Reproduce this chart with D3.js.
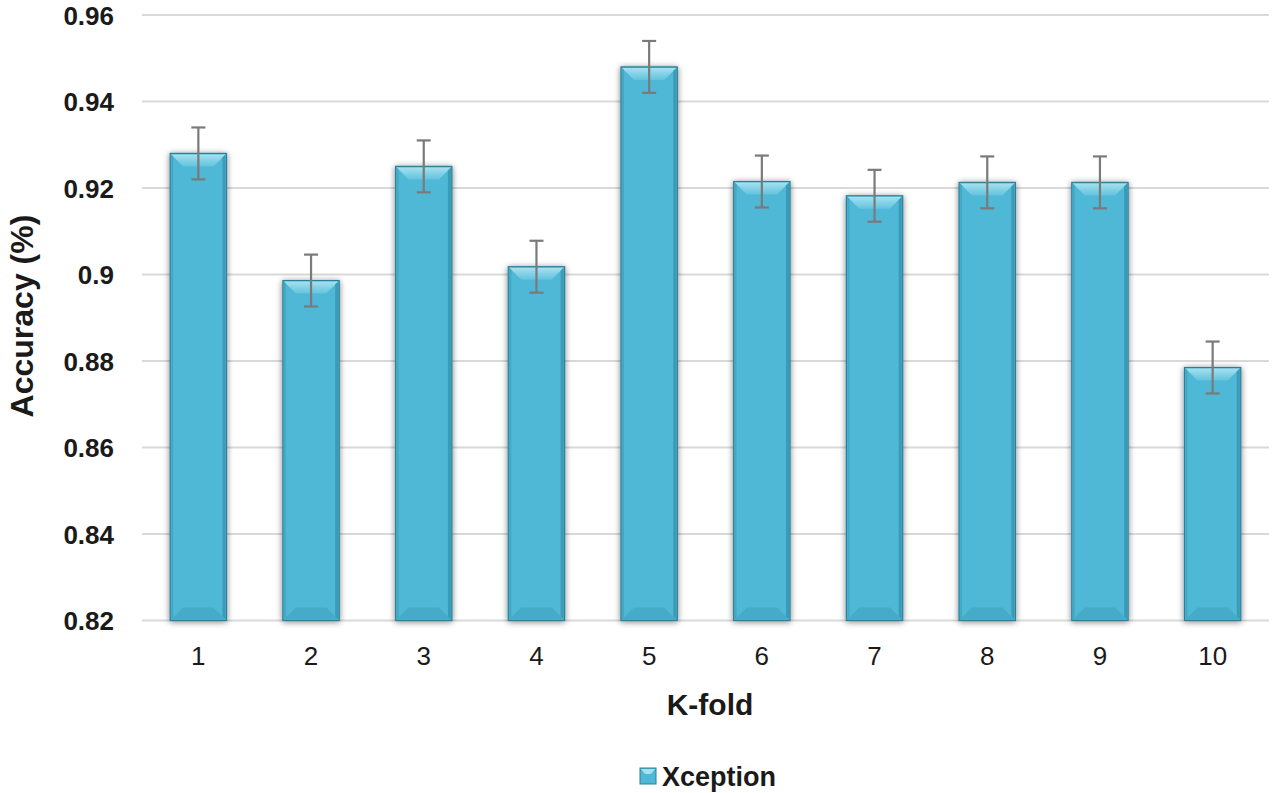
<!DOCTYPE html>
<html><head><meta charset="utf-8">
<script src="https://cdn.jsdelivr.net/npm/d3@7"></script>
<style>body{margin:0;background:#fff}svg{display:block;font-family:"Liberation Sans",Arial,Helvetica,sans-serif}</style>
</head><body>
<svg id="c" width="1272" height="793"></svg>
<script>
const folds = ["1","2","3","4","5","6","7","8","9","10"];
const accuracy = [0.928, 0.8986, 0.925, 0.9018, 0.948, 0.9215, 0.9182, 0.9213, 0.9213, 0.8785];
const errors = [0.006, 0.006, 0.006, 0.006, 0.006, 0.006, 0.006, 0.006, 0.006, 0.006];
const yTicks = [0.82, 0.84, 0.86, 0.88, 0.9, 0.92, 0.94, 0.96];
const seriesName = "Xception";

const svg = d3.select("#c");
const L = 142, R = 1269, T = 15, B = 620.5;
const x = d3.scaleBand().domain(folds).range([L, R]).paddingInner(0.5).paddingOuter(0.25);
const y = d3.scaleLinear().domain([0.82, 0.96]).range([B, T]);

const defs = svg.append("defs");
const f = defs.append("filter").attr("id","sh").attr("x","-30%").attr("y","-10%").attr("width","160%").attr("height","120%");
f.append("feGaussianBlur").attr("in","SourceAlpha").attr("stdDeviation",3).attr("result","b");
f.append("feOffset").attr("in","b").attr("dx",0).attr("dy",1).attr("result","o");
f.append("feComponentTransfer").attr("in","o").attr("result","o2").append("feFuncA").attr("type","linear").attr("slope",0.5);
const m = f.append("feMerge"); m.append("feMergeNode").attr("in","o2"); m.append("feMergeNode").attr("in","SourceGraphic");

const gTop = defs.append("linearGradient").attr("id","gt").attr("x1",0).attr("y1",0).attr("x2",0).attr("y2",1);
gTop.append("stop").attr("offset","0").attr("stop-color","#a6e0ef");
gTop.append("stop").attr("offset","1").attr("stop-color","#62c3dd");

// grid
svg.append("g").selectAll("line").data(yTicks).join("line")
  .attr("x1", L).attr("x2", R).attr("y1", d => y(d)).attr("y2", d => y(d))
  .attr("stroke", "#d9d9d9").attr("stroke-width", 2);

// y axis labels
const yAxis = d3.axisLeft(y).tickValues(yTicks).tickSize(0).tickPadding(0).tickFormat(d => String(+d.toFixed(2)));
const ya = svg.append("g").attr("transform", `translate(114,0)`).call(yAxis);
ya.select(".domain").remove();
ya.selectAll("text").attr("font-size", 26).attr("font-weight", "bold").attr("fill", "#1a1a1a")
  .attr("font-family", "'Liberation Sans',Arial,sans-serif").attr("dy", "0.35em");

// x axis labels
const xAxis = d3.axisBottom(x).tickSize(0).tickPadding(0);
const xa = svg.append("g").attr("transform", `translate(0,665)`).call(xAxis);
xa.select(".domain").remove();
xa.selectAll("text").attr("font-size", 26).attr("fill", "#1a1a1a").attr("dy", "0")
  .attr("font-family", "'Liberation Sans',Arial,sans-serif");

// bars
const bw = x.bandwidth();
const bars = svg.append("g").selectAll("g").data(folds).join("g");
bars.each(function(d, i) {
  const g = d3.select(this);
  const x0 = x(d), x1 = x0 + bw, y0 = y(accuracy[i]), y1 = y(0.82);
  const bev = 13;
  g.append("rect").attr("x", x0).attr("y", y0).attr("width", bw).attr("height", y1 - y0)
    .attr("fill", "#4fb8d6").attr("stroke", "#2d7f96").attr("stroke-width", 1.2).attr("filter", "url(#sh)");
  g.append("path").attr("d", `M${x0+1},${y0+1}L${x1-1},${y0+1}L${x1-bev},${y0+bev}L${x0+bev},${y0+bev}Z`).attr("fill", "url(#gt)");
  g.append("path").attr("d", `M${x1-1},${y0+1}L${x1-1},${y1-1}L${x1-4},${y1-4}L${x1-4},${y0+4}Z`).attr("fill", "#3b9bb7");
  g.append("path").attr("d", `M${x0+1},${y0+1}L${x0+1},${y1-1}L${x0+3},${y1-3}L${x0+3},${y0+3}Z`).attr("fill", "#44a8c4");
  g.append("path").attr("d", `M${x0+1},${y1-1}L${x1-1},${y1-1}L${x1-bev},${y1-bev}L${x0+bev},${y1-bev}Z`).attr("fill", "#45abc8");
});

// error bars
const eb = svg.append("g").attr("stroke", "#7a7a7a").attr("stroke-width", 2.2);
folds.forEach((d, i) => {
  const cx = x(d) + bw / 2;
  const yt = y(accuracy[i] + errors[i]), yb = y(accuracy[i] - errors[i]);
  eb.append("line").attr("x1", cx).attr("x2", cx).attr("y1", yt).attr("y2", yb);
  eb.append("line").attr("x1", cx - 7).attr("x2", cx + 7).attr("y1", yt).attr("y2", yt);
  eb.append("line").attr("x1", cx - 7).attr("x2", cx + 7).attr("y1", yb).attr("y2", yb);
});

// axis titles
svg.append("text").attr("x", 710).attr("y", 715).attr("text-anchor", "middle")
  .attr("font-size", 30).attr("font-weight", "bold").attr("fill", "#1a1a1a").text("K-fold");
svg.append("text").attr("transform", "translate(33,316) rotate(-90)").attr("text-anchor", "middle")
  .attr("font-size", 32).attr("font-weight", "bold").attr("fill", "#1a1a1a").text("Accuracy (%)");

// legend
const lg = svg.append("g").attr("transform", "translate(640,768)");
lg.append("rect").attr("width", 16).attr("height", 16).attr("fill", "#4fb8d6").attr("stroke", "#2d7f96");
lg.append("path").attr("d", "M1,1L15,1L11,6L5,6Z").attr("fill", "#a6e0ef");
lg.append("text").attr("x", 22).attr("y", 18).attr("font-size", 27).attr("font-weight", "bold").attr("fill", "#1a1a1a").text(seriesName);
</script>
</body></html>
